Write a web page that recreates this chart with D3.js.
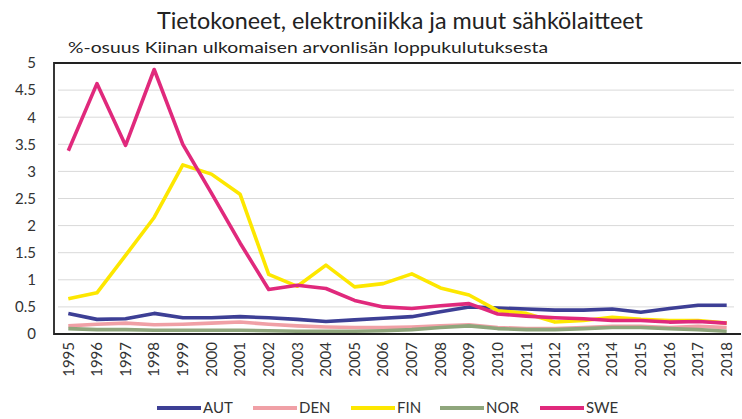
<!DOCTYPE html>
<html>
<head>
<meta charset="utf-8">
<script src="https://cdn.jsdelivr.net/npm/d3@7"></script>
<style>
  body { margin:0; background:#fff; }
  svg { font-family: Lato, "Open Sans", sans-serif; }
</style>
</head>
<body>
<div id="chart"></div>
<script>
// data
var years = ["1995","1996","1997","1998","1999","2000","2001","2002","2003","2004","2005","2006",
             "2007","2008","2009","2010","2011","2012","2013","2014","2015","2016","2017","2018"];
var AUT = [0.38,0.27,0.28,0.38,0.30,0.30,0.32,0.30,0.27,0.23,0.26,0.29,0.32,0.41,0.50,0.48,0.46,0.44,0.44,0.46,0.40,0.47,0.53,0.53];
var DEN = [0.15,0.18,0.20,0.17,0.18,0.20,0.22,0.18,0.15,0.13,0.12,0.12,0.13,0.15,0.17,0.12,0.10,0.10,0.12,0.14,0.14,0.12,0.14,0.12];
var FIN = [0.65,0.76,1.45,2.15,3.12,2.95,2.58,1.10,0.88,1.27,0.87,0.93,1.11,0.85,0.72,0.43,0.38,0.22,0.25,0.31,0.27,0.25,0.25,0.20];
var NOR = [0.10,0.08,0.08,0.07,0.07,0.07,0.07,0.06,0.05,0.05,0.05,0.06,0.08,0.12,0.15,0.10,0.08,0.08,0.10,0.12,0.12,0.10,0.08,0.05];
var SWE = [3.38,4.62,3.48,4.88,3.50,2.60,1.68,0.82,0.90,0.84,0.62,0.50,0.47,0.52,0.56,0.37,0.33,0.30,0.28,0.25,0.25,0.22,0.23,0.20];
var yTicks = [0,0.5,1,1.5,2,2.5,3,3.5,4,4.5,5];

var series = [
  {name:"AUT", values:AUT, color:"#3d3f95"},
  {name:"DEN", values:DEN, color:"#f0a0a6"},
  {name:"FIN", values:FIN, color:"#fde700"},
  {name:"NOR", values:NOR, color:"#8fa67c"},
  {name:"SWE", values:SWE, color:"#e0297c"}
];

var W = 742, H = 419;
var margin = {top:63, right:1, bottom:85, left:54};

var svg = d3.select("#chart").append("svg")
    .attr("width", W).attr("height", H);

var x = d3.scaleBand().domain(years).range([margin.left, W - margin.right]);
var y = d3.scaleLinear().domain([0,5]).range([H - margin.bottom, margin.top]);

// title
svg.append("text").attr("x", 157).attr("y", 29)
  .attr("font-size", 24).attr("fill","#222")
  .attr("textLength", 486).attr("lengthAdjust","spacingAndGlyphs")
  .text("Tietokoneet, elektroniikka ja muut sähkölaitteet");
svg.append("text").attr("x", 68).attr("y", 53)
  .attr("font-size", 16).attr("fill","#222")
  .attr("textLength", 480).attr("lengthAdjust","spacingAndGlyphs")
  .text("%-osuus Kiinan ulkomaisen arvonlisän loppukulutuksesta");

// gridlines
svg.append("g").selectAll("line").data(yTicks.filter(function(d){ return d > 0 && d < 5; }))
  .enter().append("line")
  .attr("x1", margin.left + 4).attr("x2", W - 8)
  .attr("y1", function(d){ return y(d); }).attr("y2", function(d){ return y(d); })
  .attr("stroke","#d9d9d9").attr("stroke-width",1);

// y axis labels
var yAxis = d3.axisLeft(y).tickValues(yTicks).tickSize(0).tickPadding(0)
  .tickFormat(function(d){ return String(d); });
var gy = svg.append("g").attr("transform","translate(36,0)").call(yAxis);
gy.select(".domain").remove();
gy.selectAll("text").attr("font-size", 15).attr("fill","#333").attr("font-family","Lato, sans-serif");

// x axis labels
var xAxis = d3.axisBottom(x).tickSize(0).tickPadding(0);
var gx = svg.append("g").attr("transform","translate(0," + (H - margin.bottom) + ")").call(xAxis);
gx.select(".domain").remove();
gx.selectAll("text")
  .attr("font-size", 15).attr("fill","#333").attr("font-family","Lato, sans-serif")
  .attr("transform","rotate(-90)")
  .attr("text-anchor","end").attr("dy","0.35em").attr("x", -8).attr("y", 0);

// frame
svg.append("path")
  .attr("d","M" + (W - margin.right) + "," + margin.top + "H" + margin.left + "V" + (H - margin.bottom) + "H" + (W - margin.right))
  .attr("fill","none").attr("stroke","#222").attr("stroke-width",1.8);

// lines
var line = d3.line()
  .x(function(d,i){ return x(years[i]) + x.bandwidth()/2; })
  .y(function(d){ return y(d); });

svg.append("g").selectAll("path").data(series).enter().append("path")
  .attr("d", function(s){ return line(s.values); })
  .attr("fill","none").attr("stroke", function(s){ return s.color; })
  .attr("stroke-width", 3.6).attr("stroke-linejoin","round");

// legend
var legendX = [157, 253, 351, 440, 540];
var lg = svg.append("g").selectAll("g").data(series).enter().append("g")
  .attr("transform", function(s,i){ return "translate(" + legendX[i] + ",408)"; });
lg.append("line").attr("x1",0).attr("x2",44).attr("y1",0).attr("y2",0)
  .attr("stroke", function(s){ return s.color; }).attr("stroke-width",4);
lg.append("text").attr("x",46).attr("y",0).attr("dy","0.35em")
  .attr("font-size",15).attr("fill","#333").text(function(s){ return s.name; });
</script>
</body>
</html>
